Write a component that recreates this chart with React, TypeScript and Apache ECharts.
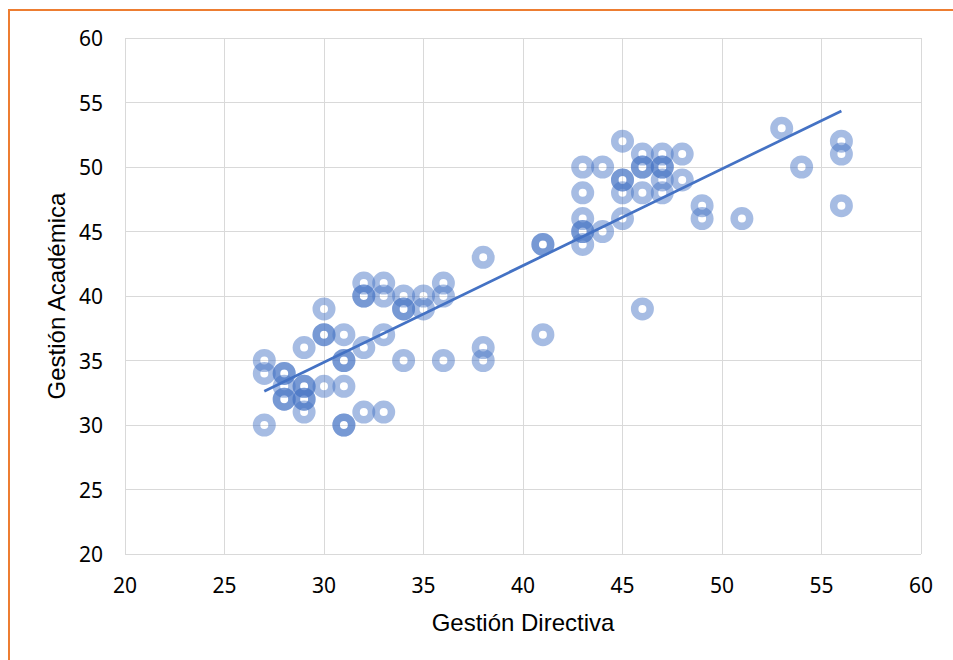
import React, { useEffect, useRef } from "react";
import * as echarts from "echarts";

const gestionDirectiva = [
  27, 27, 27,
  28, 28, 28, 28, 28,
  29, 29, 29, 29, 29, 29,
  30, 30, 30, 30,
  31, 31, 31, 31, 31, 31,
  32, 32, 32, 32, 32,
  33, 33, 33, 33,
  34, 34, 34, 34,
  35, 35,
  36, 36, 36,
  38, 38, 38,
  41, 41, 41,
  43, 43, 43, 43, 43, 43,
  44, 44,
  45, 45, 45, 45, 45,
  46, 46, 46, 46, 46,
  47, 47, 47, 47, 47,
  48, 48,
  49, 49,
  51,
  53,
  54,
  56, 56, 56,
];
const gestionAcademica = [
  35, 34, 30,
  34, 34, 33, 32, 32,
  36, 33, 33, 32, 32, 31,
  39, 37, 37, 33,
  37, 35, 35, 33, 30, 30,
  41, 40, 40, 36, 31,
  41, 40, 37, 31,
  40, 39, 39, 35,
  40, 39,
  41, 40, 35,
  43, 36, 35,
  44, 44, 37,
  50, 48, 46, 45, 45, 44,
  50, 45,
  52, 49, 49, 48, 46,
  51, 50, 50, 48, 39,
  51, 50, 50, 49, 48,
  51, 49,
  47, 46,
  46,
  53,
  50,
  52, 51, 47,
];
const tickValues = [20, 25, 30, 35, 40, 45, 50, 55, 60];

const RING =
  "path://M0,-11.5 A11.5,11.5 0 1,1 0,11.5 A11.5,11.5 0 1,1 0,-11.5 Z M0,-4 A4,4 0 1,0 0,4 A4,4 0 1,0 0,-4 Z";

export default function App() {
  const ref = useRef<HTMLDivElement>(null);
  useEffect(() => {
    if (!ref.current) return;
    const chart = echarts.init(ref.current, null, { renderer: "svg" });
    const pts = gestionDirectiva.map((x, i) => [x, gestionAcademica[i]]);
    const n = pts.length;
    const mx = gestionDirectiva.reduce((a, b) => a + b, 0) / n;
    const my = gestionAcademica.reduce((a, b) => a + b, 0) / n;
    let sxy = 0, sxx = 0;
    for (let i = 0; i < n; i++) {
      sxy += (gestionDirectiva[i] - mx) * (gestionAcademica[i] - my);
      sxx += (gestionDirectiva[i] - mx) ** 2;
    }
    const slope = sxy / sxx;
    const inter = my - slope * mx;
    const xmin = Math.min(...gestionDirectiva);
    const xmax = Math.max(...gestionDirectiva);
    const trend = [
      [xmin, inter + slope * xmin],
      [xmax, inter + slope * xmax],
    ];
    const axisCommon = {
      type: "value" as const,
      min: tickValues[0],
      max: tickValues[tickValues.length - 1],
      interval: 5,
      axisLine: { show: false },
      axisTick: { show: false },
      splitLine: { show: true, lineStyle: { color: "#D9D9D9", width: 1 } },
      nameTextStyle: { fontFamily: "Liberation Sans", fontSize: 24, color: "#000" },
      nameLocation: "middle" as const,
    };
    chart.setOption({
      animation: false,
      grid: { left: 125, top: 38, right: 32, bottom: 106 },
      xAxis: {
        ...axisCommon,
        name: "Gestión Directiva",
        nameGap: 56,
        axisLabel: { margin: 20, fontFamily: "Noto Sans", fontSize: 21, color: "#000" },
      },
      yAxis: {
        ...axisCommon,
        name: "Gestión Académica",
        nameGap: 56,
        axisLabel: { margin: 22, fontFamily: "Noto Sans", fontSize: 21, color: "#000" },
      },
      graphic: [
        { type: "line", shape: { x1: 9, y1: 9, x2: 9, y2: 660 }, style: { stroke: "#ED7D31", lineWidth: 2 } },
        { type: "line", shape: { x1: 9, y1: 10, x2: 953, y2: 10 }, style: { stroke: "#ED7D31", lineWidth: 2 } },
      ],
      series: [
        {
          type: "scatter",
          data: pts,
          symbol: RING,
          symbolSize: 23,
          itemStyle: {
            color: "rgba(68,114,196,0.6)",
            borderWidth: 0,
          },
          z: 2,
        },
        {
          type: "line",
          data: trend,
          symbol: "none",
          lineStyle: { color: "#4472C4", width: 2.75 },
          z: 3,
        },
      ],
    });
    return () => chart.dispose();
  }, []);
  return (
    <div
      ref={ref}
      style={{ position: "absolute", left: 0, top: 0, width: 953, height: 660, background: "#fff" }}
    />
  );
}
